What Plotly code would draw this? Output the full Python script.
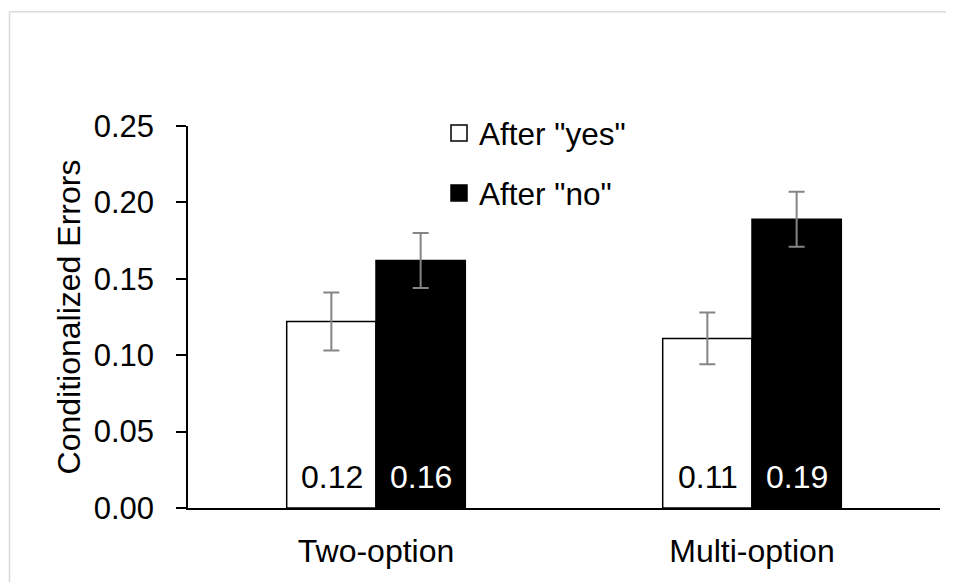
import plotly.graph_objects as go

categories = ["Two-option", "Multi-option"]
series_names = ['After "yes"', 'After "no"']
yes_values = [0.122, 0.111]
no_values = [0.162, 0.189]
yes_err_plus = [0.019, 0.017]
yes_err_minus = [0.019, 0.017]
no_err_plus = [0.018, 0.018]
no_err_minus = [0.018, 0.018]
y_ticks = [0.00, 0.05, 0.10, 0.15, 0.20, 0.25]

FONT = "Liberation Sans, Arial, Helvetica, sans-serif"
ERR_COLOR = "#858585"

# page has an 8px body margin: work in layout coords = window coords - 8
W, H = 946, 574
L, R, T, B = 180, 14, 118, 74
pw, ph = W - L - R, H - T - B

fig = go.Figure()
fills = ["white", "black"]
for name, vals, ep, em, fill, grp in [
    (series_names[0], yes_values, yes_err_plus, yes_err_minus, fills[0], "a"),
    (series_names[1], no_values, no_err_plus, no_err_minus, fills[1], "b"),
]:
    fig.add_trace(go.Bar(
        name=name, x=categories, y=vals, showlegend=False, legendgroup=grp,
        marker=dict(color=fill, line=dict(color="black", width=1.5)),
        error_y=dict(type="data", array=ep, arrayminus=em,
                     color=ERR_COLOR, thickness=2, width=8),
    ))
    # legend entry with a larger square swatch
    fig.add_trace(go.Scatter(
        name=name, x=[None], y=[None], mode="markers", legendgroup=grp,
        marker=dict(symbol="square", size=16, color=fill,
                    line=dict(color="black", width=1.5)),
    ))

# value labels at the bottom of each bar
for vals, shift, col in [(yes_values, -44.5, "black"), (no_values, 44.5, "white")]:
    for c, v in zip(categories, vals):
        fig.add_annotation(x=c, y=0, xref="x", yref="y", text=f"{v:.2f}",
                           showarrow=False, xshift=shift, yshift=31,
                           yanchor="middle", xanchor="center",
                           font=dict(family=FONT, size=32, color=col))

# light gray frame (partial border)
fx = (1.5 - L) / pw
fy = 1 + (T - 3.7) / ph
fig.add_shape(type="line", xref="paper", yref="paper", x0=fx, x1=fx, y0=-1, y1=fy,
              line=dict(color="#d9d9d9", width=1.5))
fig.add_shape(type="line", xref="paper", yref="paper", x0=fx, x1=2, y0=fy, y1=fy,
              line=dict(color="#d9d9d9", width=1.5))

fig.update_layout(
    width=W, height=H,
    margin=dict(l=L, r=R, t=T, b=B),
    paper_bgcolor="white", plot_bgcolor="white",
    barmode="group", bargap=0.525, bargroupgap=0,
    font=dict(family=FONT, size=31, color="black"),
    showlegend=True,
    legend=dict(x=(431 - L) / pw, y=1 + (T - 98) / ph, xanchor="left", yanchor="top",
                bgcolor="rgba(0,0,0,0)", traceorder="grouped", tracegroupgap=16,
                font=dict(family=FONT, size=31.5, color="black")),
    xaxis=dict(showline=True, linecolor="black", linewidth=1.5, ticks="",
               showgrid=False, zeroline=False, ticklabelstandoff=14,
               tickfont=dict(family=FONT, size=32, color="black")),
    yaxis=dict(range=[0, 0.25], tickvals=y_ticks, tickformat=".2f",
               showline=True, linecolor="black", linewidth=1.5,
               ticks="outside", ticklen=10, tickwidth=1.5, tickcolor="black",
               showgrid=False, zeroline=False, ticklabelstandoff=16,
               tickfont=dict(family=FONT, size=31, color="black"),
               title=dict(text="Conditionalized Errors", standoff=4,
                          font=dict(family=FONT, size=32, color="black"))),
)

fig.write_html("out.html")
